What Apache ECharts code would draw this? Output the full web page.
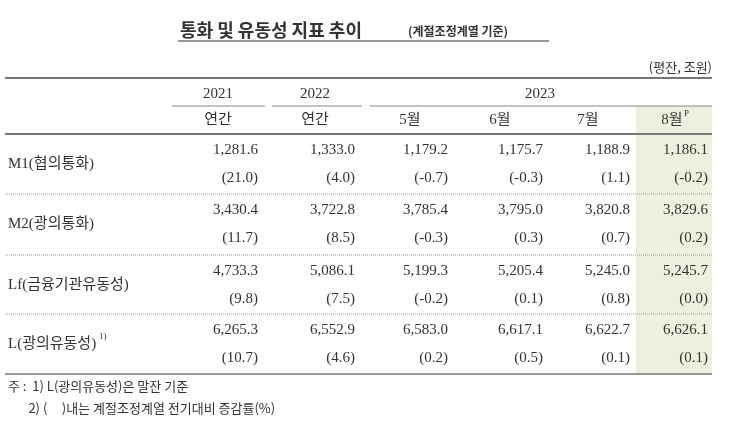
<!DOCTYPE html>
<html><head><meta charset="utf-8">
<script src="https://cdn.jsdelivr.net/npm/echarts@6/dist/echarts.min.js"></script>
<style>html,body{margin:0;background:#fff}#main{width:730px;height:423px}</style>
</head><body><div id="main"></div>
<script>
var years = ['2021', '2022', '2023'];
var columns = ['연간', '연간', '5월', '6월', '7월', '8월'];
var rowNames = ['M1(협의통화)', 'M2(광의통화)', 'Lf(금융기관유동성)', 'L(광의유동성)'];
var levels = [
  ['1,281.6', '1,333.0', '1,179.2', '1,175.7', '1,188.9', '1,186.1'],
  ['3,430.4', '3,722.8', '3,785.4', '3,795.0', '3,820.8', '3,829.6'],
  ['4,733.3', '5,086.1', '5,199.3', '5,205.4', '5,245.0', '5,245.7'],
  ['6,265.3', '6,552.9', '6,583.0', '6,617.1', '6,622.7', '6,626.1']
];
var rates = [
  ['(21.0)', '(4.0)', '(-0.7)', '(-0.3)', '(1.1)', '(-0.2)'],
  ['(11.7)', '(8.5)', '(-0.3)', '(0.3)', '(0.7)', '(0.2)'],
  ['(9.8)', '(7.5)', '(-0.2)', '(0.1)', '(0.8)', '(0.0)'],
  ['(10.7)', '(4.6)', '(0.2)', '(0.5)', '(0.1)', '(0.1)']
];
var notes = ['주 :  1) L(광의유동성)은 말잔 기준', '       2) (     )내는 계절조정계열 전기대비 증감률(%)'];

var serif = '"Liberation Serif","Noto Sans CJK KR",serif';
var kr = '"Noto Sans CJK KR",sans-serif';
var colRight = [258, 355, 448, 543, 630, 708];
var colCenter = [218, 315, 410, 500, 588, 672];
var rowTop = [134, 194, 255, 314];
var els = [];
function txt(x, y, s, o) {
  els.push({type: 'text', x: x, y: y, style: Object.assign({text: s, fill: '#333', font: '15px ' + serif, textVerticalAlign: 'middle'}, o || {})});
}
function line(x1, y1, x2, y2, o) {
  els.push({type: 'line', shape: {x1: x1, y1: y1, x2: x2, y2: y2}, style: Object.assign({stroke: '#666', lineWidth: 1}, o || {})});
}
// green highlight column
els.push({type: 'rect', shape: {x: 636, y: 106, width: 76, height: 268}, style: {fill: '#ebf1de'}, z: -1});
txt(180, 30, '통화 및 유동성 지표 추이', {font: 'bold 18px ' + kr});
txt(408, 31, '(계절조정계열 기준)', {font: 'bold 12px ' + kr});
line(178, 41, 549, 41, {stroke: '#333'});
txt(712, 67, '(평잔, 조원)', {font: '13px ' + kr, textAlign: 'right'});
line(5, 78, 712, 78, {stroke: '#777', lineWidth: 2});
txt(218, 94, years[0], {textAlign: 'center'});
txt(315, 94, years[1], {textAlign: 'center'});
txt(540, 94, years[2], {textAlign: 'center'});
line(172, 106, 265, 106, {stroke: '#888'});
line(272, 106, 362, 106, {stroke: '#888'});
line(370, 106, 712, 106, {stroke: '#888'});
columns.forEach(function (c, i) {
  txt(colCenter[i], 120, c, {textAlign: 'center', font: '15px ' + serif});
});
txt(684, 114, 'P', {font: '9px ' + serif});
line(5, 134, 712, 134, {stroke: '#777', lineWidth: 2});
rowNames.forEach(function (n, r) {
  var t = rowTop[r];
  txt(8, t + 30, n, {font: '15px ' + serif});
  levels[r].forEach(function (v, i) { txt(colRight[i], t + 16, v, {textAlign: 'right'}); });
  rates[r].forEach(function (v, i) { txt(colRight[i], t + 44, v, {textAlign: 'right'}); });
  if (r < rowNames.length - 1) line(5, rowTop[r + 1], 712, rowTop[r + 1], {stroke: '#999', lineDash: [1, 1]});
});
txt(99, 337, '1)', {font: '9px ' + serif});
line(5, 374, 712, 374, {stroke: '#777', lineWidth: 1.5});
txt(8, 386, notes[0], {font: '13px ' + kr});
txt(8, 408, notes[1], {font: '13px ' + kr});

var myChart = echarts.init(document.getElementById('main'));
myChart.setOption({backgroundColor: '#fff', graphic: {elements: els}});
</script></body></html>
